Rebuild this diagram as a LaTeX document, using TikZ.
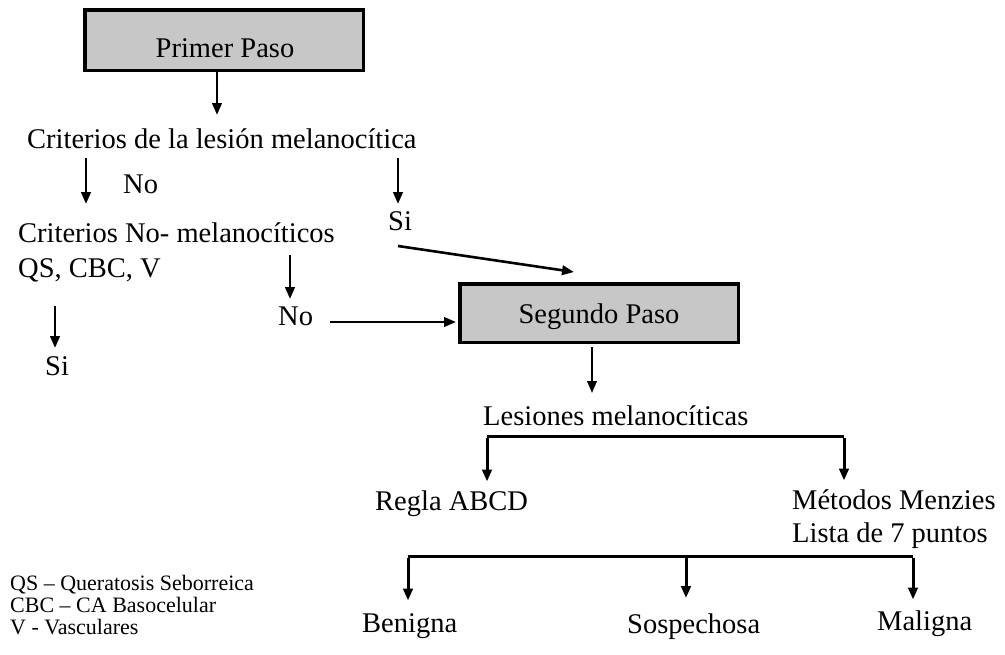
\documentclass[tikz,border=0pt]{standalone}
\usepackage{fontspec}
\setmainfont{Liberation Serif}
\usetikzlibrary{arrows.meta}
\begin{document}
\begin{tikzpicture}[x=1pt,y=-1pt,
  txt/.style={inner sep=0pt, anchor=base west, font=\fontsize{28.5}{34}\selectfont},
  small/.style={inner sep=0pt, anchor=base west, font=\fontsize{22}{21}\selectfont},
  stepbox/.style={draw, line width=3.5pt, fill=black!22, inner sep=0pt},
  arr/.style={line width=2.6pt, -{Triangle[length=12pt,width=9.5pt]}},
  brk/.style={line width=3pt}]
\useasboundingbox (0,0) rectangle (1005,654);

% boxes
\node[stepbox, minimum width=278.5pt, minimum height=60.5pt] (b1) at (224,40) {};
\node[txt, anchor=base] (t1) at (225,57) {Primer Paso};
\node[stepbox, minimum width=278.5pt, minimum height=58.5pt] (b2) at (599,313) {};
\node[txt, anchor=base] (t2) at (599,323) {Segundo Paso};

% texts
\node[txt] (c1) at (27,148) {Criterios de la lesión melanocítica};
\node[txt] (no1) at (123,193) {No};
\node[txt] (si1) at (388,230) {Si};
\node[txt] (c2) at (18,242) {Criterios No- melanocíticos};
\node[txt] (c3) at (18,277) {QS, CBC, V};
\node[txt] (no2) at (278,325) {No};
\node[txt] (si2) at (45,375) {Si};
\node[txt] (les) at (483,425) {Lesiones melanocíticas};
\node[txt] (abcd) at (375,510) {Regla ABCD};
\node[txt] (men) at (792,509) {Métodos Menzies};
\node[txt] (lista) at (792,542) {Lista de 7 puntos};
\node[txt] (ben) at (362,632) {Benigna};
\node[txt] (sos) at (627,633) {Sospechosa};
\node[txt] (mal) at (877,630) {Maligna};

\node[small] (l1) at (10,590) {QS – Queratosis Seborreica};
\node[small] (l2) at (10,612) {CBC – CA Basocelular};
\node[small] (l3) at (10,634) {V - Vasculares};

% connector end points
\coordinate (a1e) at (217,115);
\coordinate (a2s) at (86,158);
\coordinate (a2e) at (86,204);
\coordinate (a3s) at (398,158);
\coordinate (a3e) at (398,204);
\coordinate (a4s) at (290,255);
\coordinate (a4e) at (290,299);
\coordinate (a5s) at (330,322);
\coordinate (a6s) at (398,246);
\coordinate (a6e) at (574,272);
\coordinate (a7s) at (55,306);
\coordinate (a7e) at (55,348);
\coordinate (a8e) at (592,393);
\coordinate (k1l) at (487,436);
\coordinate (k1r) at (844,436);
\coordinate (k2l) at (408,556);
\coordinate (k2m) at (686,556);
\coordinate (k2r) at (913,556);

% connectors
\draw[arr] (b1.south -| a1e) -- (a1e);
\draw[arr] (a2s) -- (a2e);
\draw[arr] (a3s) -- (a3e);
\draw[arr] (a4s) -- (a4e);
\draw[arr] (a5s) -- ([xshift=-2pt]b2.west |- a5s);
\draw[arr] (a6s) -- (a6e);
\draw[arr] (a7s) -- (a7e);
\draw[arr, line width=2.2pt] ([yshift=-3pt]b2.south -| a8e) -- (a8e);

\draw[brk] (k1l) -- (k1r);
\draw[arr, line width=3pt] ([yshift=-1.5pt]k1l) -- ++(0,44);
\draw[arr, line width=3pt] ([yshift=-1.5pt]k1r) -- ++(0,43);
\draw[brk] (k2l) -- (k2r);
\draw[arr, line width=3pt] ([yshift=-1.5pt]k2l) -- ++(0,43);
\draw[arr, line width=3pt] (k2m) -- ++(0,42);
\draw[arr, line width=3pt] ([yshift=-1.5pt]k2r) -- ++(0,42);
\end{tikzpicture}
\end{document}
